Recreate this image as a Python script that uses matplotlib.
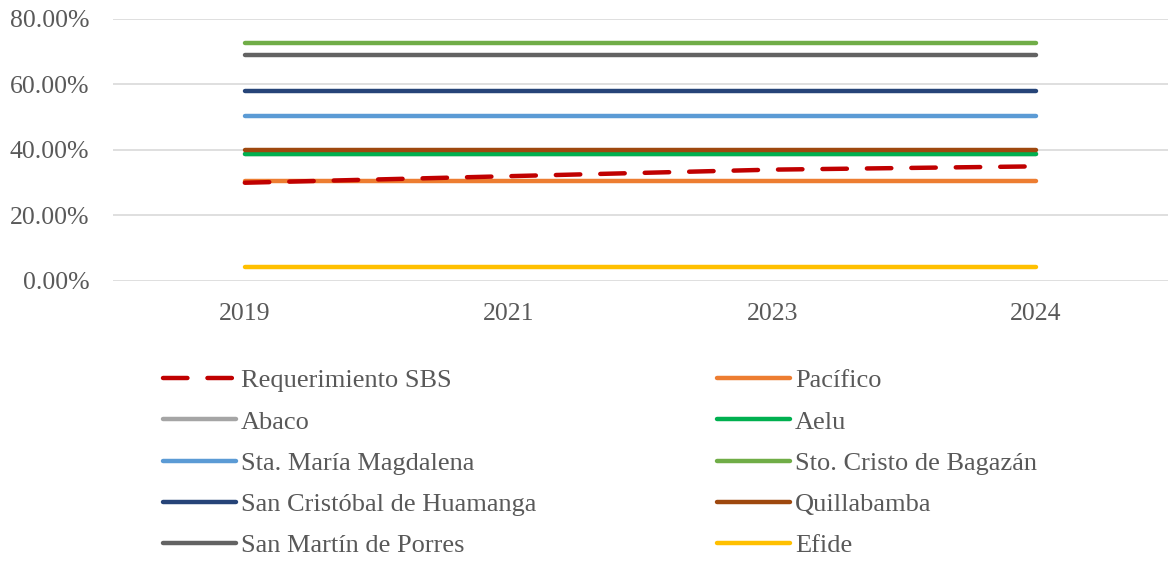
import numpy as np
import matplotlib.pyplot as plt

# Datos
years = ["2019", "2021", "2023", "2024"]
requerimiento_sbs = [30.0, 32.0, 34.0, 35.0]
pacifico = [30.4, 30.4, 30.4, 30.4]
abaco = [38.9, 38.9, 38.9, 38.9]
aelu = [38.9, 38.9, 38.9, 38.9]
sta_maria = [50.3, 50.3, 50.3, 50.3]
sto_cristo = [72.7, 72.7, 72.7, 72.7]
san_cristobal = [58.0, 58.0, 58.0, 58.0]
quillabamba = [40.1, 40.1, 40.1, 40.1]
san_martin = [68.9, 68.9, 68.9, 68.9]
efide = [4.4, 4.4, 4.4, 4.4]

series = [
    ("Requerimiento SBS", requerimiento_sbs, "#C00000", "--"),
    ("Pacífico", pacifico, "#ED7D31", "-"),
    ("Abaco", abaco, "#A5A5A5", "-"),
    ("Aelu", aelu, "#00B050", "-"),
    ("Sta. María Magdalena", sta_maria, "#5B9BD5", "-"),
    ("Sto. Cristo de Bagazán", sto_cristo, "#70AD47", "-"),
    ("San Cristóbal de Huamanga", san_cristobal, "#264478", "-"),
    ("Quillabamba", quillabamba, "#9E480E", "-"),
    ("San Martín de Porres", san_martin, "#636363", "-"),
    ("Efide", efide, "#FFC000", "-"),
]

plt.rcParams["font.family"] = ["Liberation Serif", "DejaVu Serif"]
text_color = "#595959"
fs = 18.5
fs_leg = 19

fig = plt.figure(figsize=(11.73, 5.63), dpi=100)
ax = fig.add_axes([0.0963, 0.5009, 0.8994, 0.4654])

x = np.arange(len(years))
handles = {}
for name, vals, color, ls in series:
    if ls == "--":
        ln, = ax.plot(x, vals, color=color, lw=3.2, linestyle=(0, (5.5, 4.5)),
                      dash_capstyle="round", solid_capstyle="round", label=name, zorder=3)
    else:
        ln, = ax.plot(x, vals, color=color, lw=3.2, solid_capstyle="round",
                      label=name, zorder=2)
    handles[name] = ln

ax.set_xlim(-0.5, len(years) - 0.5)
ax.set_ylim(0, 80)
ax.set_yticks(np.arange(0, 81, 20))
ax.set_yticklabels([f"{v:.2f}%" for v in np.arange(0, 81, 20)])
ax.set_xticks(x)
ax.set_xticklabels(years)
ax.tick_params(axis="both", length=0, labelsize=fs, labelcolor=text_color)
ax.tick_params(axis="y", pad=17)
ax.tick_params(axis="x", pad=16)
ax.grid(axis="y", color="#D9D9D9", lw=1.2)
ax.set_axisbelow(True)
for s in ax.spines.values():
    s.set_visible(False)

left_names = ["Requerimiento SBS", "Abaco", "Sta. María Magdalena",
              "San Cristóbal de Huamanga", "San Martín de Porres"]
right_names = ["Pacífico", "Aelu", "Sto. Cristo de Bagazán", "Quillabamba", "Efide"]

for names, xpos in [(left_names, 163 / 1173), (right_names, 717 / 1173)]:
    leg = fig.legend([handles[n] for n in names], names, loc="upper left",
                     bbox_to_anchor=(xpos, 1 - 369 / 563), frameon=False,
                     fontsize=fs_leg, handlelength=2.75, handletextpad=0.2,
                     labelspacing=0.67, borderpad=0, borderaxespad=0,
                     labelcolor=text_color)

fig.savefig("out.png", dpi=100)
